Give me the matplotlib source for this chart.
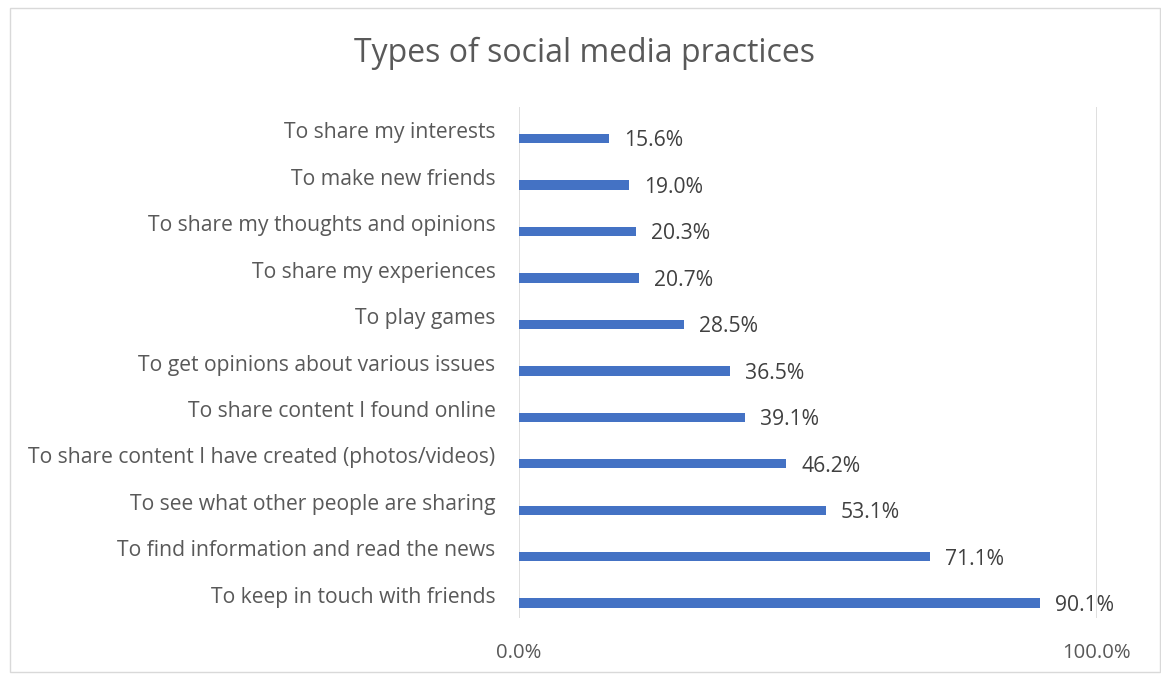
import matplotlib
matplotlib.use("Agg")
import matplotlib.pyplot as plt
from matplotlib.patches import Rectangle

categories = [
    "To share my interests",
    "To make new friends",
    "To share my thoughts and opinions",
    "To share my experiences",
    "To play games",
    "To get opinions about various issues",
    "To share content I found online",
    "To share content I have created (photos/videos)",
    "To see what other people are sharing",
    "To find information and read the news",
    "To keep in touch with friends",
]
values = [15.6, 19.0, 20.3, 20.7, 28.5, 36.5, 39.1, 46.2, 53.1, 71.1, 90.1]
x_ticks = [0, 100]
x_tick_labels = ["0.0%", "100.0%"]
title = "Types of social media practices"

W, H = 1161, 675
fig = plt.figure(figsize=(W / 100, H / 100), dpi=100)
plt.rcParams['font.family'] = ['Open Sans', 'DejaVu Sans']

# chart border
fig.patches.append(Rectangle((9.5 / W, 1 - 672 / H), (1160 - 9.5) / W, (672 - 8) / H,
                             transform=fig.transFigure, fill=False,
                             edgecolor="#d9d9d9", linewidth=1))

x0, x1 = 519, 1097
y0, y1 = 107, 618
ax = fig.add_axes([x0 / W, 1 - y1 / H, (x1 - x0) / W, (y1 - y0) / H])

n = len(categories)
pos = list(range(n))
offset = 0.18
bar_pos = [p + offset for p in pos]
ax.barh(bar_pos, values, height=0.2, color="#4472c4", zorder=3)
ax.set_ylim(n - 0.5, -0.5)
ax.set_xlim(0, 100)

ax.set_yticks(pos)
ax.set_yticklabels(categories, fontsize=15.2, color="#595959")
ax.tick_params(axis="y", length=0, pad=17)
ax.set_xticks(x_ticks)
ax.set_xticklabels(x_tick_labels, fontsize=14.6, color="#595959")
ax.tick_params(axis="x", length=0, pad=18)

for p, v in zip(bar_pos, values):
    ax.text(v + 2.6, p + 0.05, f"{v:.1f}%", va="center", ha="left",
            fontsize=15.2, color="#404040")

for s in ax.spines.values():
    s.set_visible(False)
ax.grid(axis="x", color="#d9d9d9", linewidth=1.2, zorder=0)
ax.set_axisbelow(True)

fig.text(585 / W, 1 - 53 / H, title, ha="center", va="center",
         fontsize=23, color="#595959")

fig.savefig("out.png", dpi=100)
